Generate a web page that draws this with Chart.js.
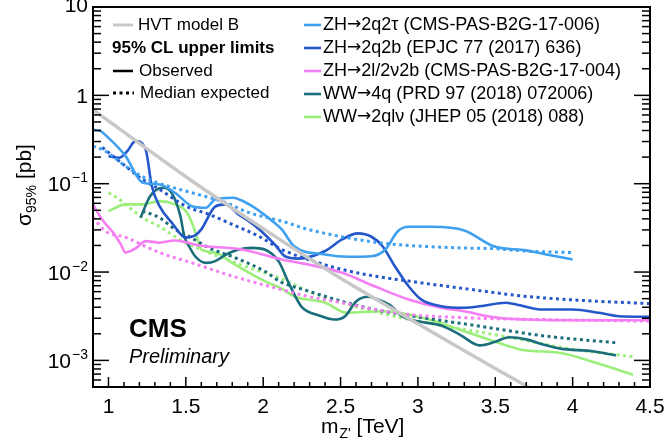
<!DOCTYPE html>
<html>
<head>
<meta charset="utf-8">
<script src="https://cdn.jsdelivr.net/npm/chart.js@4.4.0/dist/chart.umd.min.js"></script>
<style>
  body { margin: 0; background: #fff; }
</style>
</head>
<body>
<canvas id="myChart" width="671" height="439"></canvas>
<script>
// values (mass in TeV, limit in pb)
const hvtMass = [0.9, 1.5, 2.0, 2.5, 3.0, 3.5, 4.0];
const hvtXsec = [0.69, 0.12, 0.031, 0.0085, 0.0026, 0.00081, 0.00026];

const qtauObsMass = [0.9, 0.94, 1.0, 1.11, 1.22, 1.33, 1.43, 1.54, 1.63, 1.69, 1.8, 1.91, 2.06, 2.12, 2.2, 2.4, 2.55, 2.7, 2.79, 2.87, 2.94, 3.09, 3.3, 3.49, 3.7, 3.83, 4.0];
const qtauObs = [0.405, 0.40, 0.33, 0.206, 0.103, 0.098, 0.079, 0.0557, 0.0535, 0.0664, 0.0694, 0.0583, 0.0377, 0.0304, 0.0196, 0.0158, 0.0149, 0.0151, 0.018, 0.029, 0.0326, 0.0326, 0.0296, 0.0196, 0.0176, 0.0158, 0.0139];
const qtauExpMass = [0.9, 0.98, 1.11, 1.22, 1.33, 1.46, 1.58, 1.76, 1.91, 2.12, 2.29, 2.51, 2.72, 2.94, 3.3, 3.49, 3.7, 4.0];
const qtauExp = [0.267, 0.234, 0.158, 0.12, 0.1007, 0.0861, 0.0756, 0.0609, 0.047, 0.0377, 0.0304, 0.0251, 0.0218, 0.02, 0.0187, 0.0184, 0.0173, 0.0166];

const qbObsMass = [1.0, 1.07, 1.12, 1.175, 1.24, 1.28, 1.33, 1.41, 1.5, 1.56, 1.6, 1.69, 1.76, 1.84, 1.91, 1.99, 2.08, 2.14, 2.23, 2.4, 2.51, 2.61, 2.7, 2.77, 2.85, 2.94, 3.02, 3.15, 3.3, 3.4, 3.57, 3.66, 3.79, 4.0, 4.17, 4.3, 4.5];
const qbObs = [0.205, 0.197, 0.232, 0.303, 0.245, 0.094, 0.0557, 0.0361, 0.0245, 0.026, 0.0304, 0.055, 0.0583, 0.0449, 0.0374, 0.0288, 0.02, 0.0151, 0.0142, 0.0173, 0.0234, 0.0274, 0.0251, 0.0197, 0.0117, 0.0069, 0.0049, 0.0041, 0.00394, 0.0041, 0.0045, 0.0042, 0.00377, 0.00377, 0.00346, 0.00316, 0.00312];
const qbExpMass = [0.96, 1.11, 1.22, 1.33, 1.5, 1.65, 1.8, 1.97, 2.12, 2.36, 2.51, 2.72, 2.94, 3.3, 3.7, 4.13, 4.5];
const qbExp = [0.258, 0.158, 0.112, 0.0861, 0.0557, 0.0449, 0.0346, 0.0255, 0.018, 0.0127, 0.0107, 0.009, 0.0079, 0.0065, 0.0053, 0.0047, 0.0044];

const llObsMass = [0.9, 0.96, 1.03, 1.08, 1.11, 1.18, 1.24, 1.33, 1.43, 1.59, 1.86, 2.12, 2.29, 2.51, 2.72, 2.94, 3.15, 3.3, 3.49, 3.7, 3.92, 4.5];
const llObs = [0.058, 0.039, 0.028, 0.0206, 0.0166, 0.0188, 0.0224, 0.0215, 0.0228, 0.020, 0.018, 0.0139, 0.0122, 0.0098, 0.0069, 0.0049, 0.00394, 0.0036, 0.00308, 0.0029, 0.00285, 0.00285];
const llExpMass = [0.9, 0.98, 1.11, 1.33, 1.54, 1.8, 2.08, 2.29, 2.51, 2.72, 2.94, 3.3, 3.8, 4.5];
const llExp = [0.0415, 0.029, 0.0247, 0.0166, 0.0127, 0.009, 0.0066, 0.0053, 0.0045, 0.00377, 0.00331, 0.00304, 0.0029, 0.00278];

const qqObsMass = [1.207, 1.27, 1.35, 1.39, 1.43, 1.465, 1.49, 1.52, 1.56, 1.63, 1.69, 1.76, 1.84, 1.93, 2.01, 2.1, 2.17, 2.25, 2.36, 2.46, 2.53, 2.6, 2.68, 2.74, 2.82, 2.9, 3.01, 3.15, 3.27, 3.4, 3.49, 3.59, 3.7, 3.81, 3.92, 4.13, 4.28];
const qqObs = [0.0412, 0.0724, 0.0901, 0.0861, 0.0664, 0.043, 0.0255, 0.0197, 0.0151, 0.0127, 0.0133, 0.0158, 0.018, 0.0188, 0.018, 0.0132, 0.0072, 0.004, 0.00323, 0.0029, 0.00317, 0.00465, 0.00525, 0.0049, 0.00424, 0.00314, 0.00275, 0.00248, 0.00196, 0.00148, 0.0016, 0.00183, 0.00173, 0.00151, 0.00136, 0.00127, 0.00114];
const qqExpMass = [1.22, 1.33, 1.43, 1.52, 1.65, 1.82, 2.01, 2.11, 2.29, 2.54, 2.72, 2.97, 3.4, 3.83, 4.29];
const qqExp = [0.049, 0.0412, 0.0304, 0.0253, 0.0188, 0.0145, 0.0102, 0.0078, 0.0061, 0.0045, 0.00377, 0.00316, 0.00244, 0.00188, 0.00158];

const lvObsMass = [1.0, 1.11, 1.22, 1.33, 1.43, 1.5, 1.54, 1.57, 1.6, 1.69, 1.8, 1.91, 2.01, 2.12, 2.2, 2.4, 2.54, 2.77, 2.94, 3.11, 3.3, 3.49, 3.66, 3.94, 4.15, 4.39];
const lvObs = [0.049, 0.0583, 0.0583, 0.0635, 0.0583, 0.049, 0.0361, 0.0253, 0.018, 0.0166, 0.0127, 0.0098, 0.0079, 0.0065, 0.0053, 0.0045, 0.00346, 0.0036, 0.00331, 0.00278, 0.00214, 0.00165, 0.00133, 0.0012, 0.00094, 0.00069];
const lvExpMass = [1.0, 1.07, 1.15, 1.24, 1.33, 1.46, 1.6, 1.76, 1.91, 2.11, 2.32, 2.75, 3.18, 3.61, 3.94, 4.39];
const lvExp = [0.079, 0.0664, 0.0512, 0.0394, 0.0328, 0.0234, 0.018, 0.0139, 0.0112, 0.0085, 0.0058, 0.00346, 0.00244, 0.0018, 0.00139, 0.0011];

const xTickValues = [1, 1.5, 2, 2.5, 3, 3.5, 4, 4.5];
const xTickLabels = ['1', '1.5', '2', '2.5', '3', '3.5', '4', '4.5'];
const yTickExps = [-3, -2, -1, 0, 1];

const channelNames = [
  'ZH\u21922q2\u03c4 (CMS-PAS-B2G-17-006)',
  'ZH\u21922q2b (EPJC 77 (2017) 636)',
  'ZH\u21922l/2\u03bd2b (CMS-PAS-B2G-17-004)',
  'WW\u21924q (PRD 97 (2018) 072006)',
  'WW\u21922ql\u03bd (JHEP 05 (2018) 088)'
];
const channelColors = ['#3fa0f0', '#2457c9', '#f47ef2', '#1b6e7b', '#9cee7a'];

const FONT = "'Liberation Sans', Arial, sans-serif";

function pts(ms, vs) {
  return ms.map((m, i) => ({x: m, y: vs[i]}));
}

function curve(ms, vs, color, dotted) {
  return {
    data: pts(ms, vs),
    borderColor: color,
    borderWidth: dotted ? 3 : 2.6,
    borderDash: dotted ? [3, 3.5] : [],
    pointRadius: 0,
    fill: false,
    cubicInterpolationMode: 'monotone'
  };
}

function seg(ctx, x1, y1, x2, y2) {
  ctx.beginPath();
  ctx.moveTo(x1, y1);
  ctx.lineTo(x2, y2);
  ctx.stroke();
}

// legend text, the arrow drawn with DejaVu so it sits at mid height
function legendText(ctx, s, x, y) {
  const parts = s.split('\u2192');
  ctx.font = '18px ' + FONT;
  ctx.fillText(parts[0], x, y);
  x += ctx.measureText(parts[0]).width;
  ctx.font = '17px "DejaVu Sans"';
  ctx.fillText('\u2192', x, y);
  x += ctx.measureText('\u2192').width;
  ctx.font = '18px ' + FONT;
  ctx.fillText(parts[1], x, y);
}

const cmsFrame = {
  id: 'cmsFrame',
  afterDatasetsDraw(chart) {
    const ctx = chart.ctx;
    const a = chart.chartArea;
    const xs = chart.scales.x, ys = chart.scales.y;
    ctx.save();
    ctx.strokeStyle = '#000';
    ctx.setLineDash([]);
    ctx.lineWidth = 2;
    ctx.strokeRect(a.left, a.top, a.right - a.left, a.bottom - a.top);

    // ticks pointing inwards
    ctx.lineWidth = 1.5;
    for (let i = 9; i <= 45; i++) {
      const px = xs.getPixelForValue(i / 10);
      const len = i % 5 == 0 ? 10 : 5;
      seg(ctx, px, a.bottom, px, a.bottom - len);
    }
    for (let e = -4; e <= 1; e++) {
      for (let m = 1; m <= 9; m++) {
        const v = m * Math.pow(10, e);
        if (v < ys.min || v > ys.max) continue;
        const py = ys.getPixelForValue(v);
        const len = m == 1 ? 16 : 8;
        seg(ctx, a.left, py, a.left + len, py);
        seg(ctx, a.right, py, a.right - len, py);
      }
    }

    // tick labels
    ctx.fillStyle = '#000';
    ctx.textBaseline = 'alphabetic';
    ctx.font = '21px ' + FONT;
    ctx.textAlign = 'center';
    xTickValues.forEach((v, i) => ctx.fillText(xTickLabels[i], xs.getPixelForValue(v), 413));

    ctx.textAlign = 'right';
    yTickExps.forEach(e => {
      const py = ys.getPixelForValue(Math.pow(10, e)) + 7.5;
      if (e == 0) { ctx.font = '21px ' + FONT; ctx.fillText('1', 88, py); return; }
      if (e == 1) { ctx.font = '21px ' + FONT; ctx.fillText('10', 88, py - 3); return; }
      ctx.font = '14px ' + FONT;
      const sup = '\u2212' + (-e);
      const w = ctx.measureText(sup).width;
      ctx.fillText(sup, 88, py - 9);
      ctx.font = '21px ' + FONT;
      ctx.fillText('10', 88 - w - 1, py);
    });

    // axis titles
    ctx.textAlign = 'left';
    ctx.font = '21px ' + FONT;
    let x0 = 321;
    ctx.fillText('m', x0, 433);
    x0 += ctx.measureText('m').width;
    ctx.font = '14px ' + FONT;
    ctx.fillText("Z'", x0 + 1, 438);
    x0 += ctx.measureText("Z'").width + 1;
    ctx.font = '21px ' + FONT;
    ctx.fillText(' [TeV]', x0, 433);

    ctx.save();
    ctx.translate(31, 185);
    ctx.rotate(-Math.PI / 2);
    ctx.font = '21px ' + FONT;
    const wS = ctx.measureText('\u03c3').width;
    const wB = ctx.measureText(' [pb]').width;
    ctx.font = '14px ' + FONT;
    const wSub = ctx.measureText('95%').width;
    let t = -(wS + wSub + wB) / 2;
    ctx.font = '21px ' + FONT;
    ctx.fillText('\u03c3', t, 0);
    t += wS;
    ctx.font = '14px ' + FONT;
    ctx.fillText('95%', t, 5);
    t += wSub;
    ctx.font = '21px ' + FONT;
    ctx.fillText(' [pb]', t, 0);
    ctx.restore();

    // CMS label
    ctx.font = 'bold 26px ' + FONT;
    ctx.fillText('CMS', 129, 337);
    ctx.font = 'italic 20px ' + FONT;
    ctx.fillText('Preliminary', 129, 363);

    // left legend
    ctx.textBaseline = 'middle';
    ctx.font = '17px ' + FONT;
    ctx.lineWidth = 3;
    ctx.strokeStyle = '#c8c8c8';
    seg(ctx, 113, 25, 133, 25);
    ctx.fillText('HVT model B', 138, 25);
    ctx.font = 'bold 17px ' + FONT;
    ctx.fillText('95% CL upper limits', 112, 48);
    ctx.font = '17px ' + FONT;
    ctx.strokeStyle = '#000';
    ctx.lineWidth = 2.5;
    seg(ctx, 113, 71, 133, 71);
    ctx.fillText('Observed', 139, 71);
    ctx.setLineDash([3, 3.5]);
    ctx.lineWidth = 3;
    seg(ctx, 113, 93, 134, 93);
    ctx.setLineDash([]);
    ctx.fillText('Median expected', 140, 93);

    // right legend
    channelNames.forEach((name, i) => {
      const yy = 25 + i * 23;
      ctx.strokeStyle = channelColors[i];
      ctx.lineWidth = 2.6;
      seg(ctx, 304, yy, 321, yy);
      legendText(ctx, name, 323, yy);
    });
    ctx.restore();
  }
};

const data = {
  datasets: [
    Object.assign(curve(hvtMass, hvtXsec, '#c8c8c8', false), {borderWidth: 3.5, cubicInterpolationMode: 'default', tension: 0.2}),
    curve(qtauObsMass, qtauObs, channelColors[0], false),
    curve(qtauExpMass, qtauExp, channelColors[0], true),
    curve(qbObsMass, qbObs, channelColors[1], false),
    curve(qbExpMass, qbExp, channelColors[1], true),
    curve(llObsMass, llObs, channelColors[2], false),
    curve(llExpMass, llExp, channelColors[2], true),
    curve(qqObsMass, qqObs, channelColors[3], false),
    curve(qqExpMass, qqExp, channelColors[3], true),
    curve(lvObsMass, lvObs, channelColors[4], false),
    curve(lvExpMass, lvExp, channelColors[4], true)
  ]
};

const config = {
  type: 'line',
  data: data,
  options: {
    responsive: false,
    animation: false,
    devicePixelRatio: 1,
    layout: { padding: { left: 93, right: 21, top: 7, bottom: 52 } },
    scales: {
      x: { type: 'linear', min: 0.9, max: 4.5, display: false },
      y: { type: 'logarithmic', min: 0.0005, max: 10, display: false }
    },
    plugins: {
      legend: { display: false },
      tooltip: { enabled: false }
    }
  },
  plugins: [cmsFrame]
};

const myChart = new Chart(document.getElementById('myChart'), config);
</script>
</body>
</html>
